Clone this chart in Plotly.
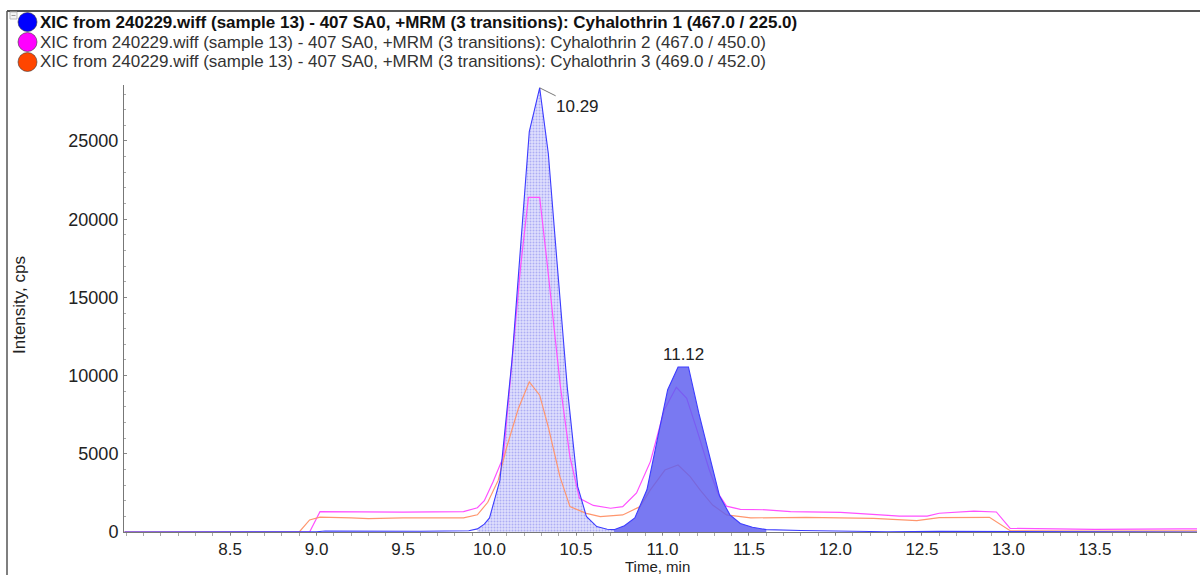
import numpy as np
import plotly.graph_objects as go

# ---------------- data ----------------
legend_labels = [
    "XIC from 240229.wiff (sample 13) - 407 SA0, +MRM (3 transitions): Cyhalothrin 1 (467.0 / 225.0)",
    "XIC from 240229.wiff (sample 13) - 407 SA0, +MRM (3 transitions): Cyhalothrin 2 (467.0 / 450.0)",
    "XIC from 240229.wiff (sample 13) - 407 SA0, +MRM (3 transitions): Cyhalothrin 3 (469.0 / 452.0)",
]

# Cyhalothrin 1 (467.0 / 225.0)
t1 = [7.89, 8.90, 9.00, 9.05, 9.30, 9.60, 9.88, 9.93, 9.97, 10.00, 10.06, 10.13, 10.18,
      10.23, 10.29, 10.34, 10.39, 10.45, 10.51, 10.56, 10.62, 10.68, 10.72, 10.78, 10.84,
      10.91, 10.97, 11.03, 11.09, 11.15, 11.21, 11.27, 11.33, 11.39, 11.45, 11.52, 11.60,
      11.80, 12.00, 12.30, 12.60, 12.95, 13.00, 13.50, 14.09]
i1 = [0, 0, 20, 60, 40, 50, 80, 200, 500, 900, 3300, 11000, 18300,
      25600, 28400, 24200, 17300, 9200, 2900, 1000, 350, 180, 150, 400, 900,
      2700, 5900, 9100, 10550, 10550, 7600, 5000, 2300, 1100, 550, 300, 150,
      100, 80, 20, 40, 40, 10, 5, 0]

# Cyhalothrin 2 (467.0 / 450.0)
t2 = [7.89, 8.96, 9.02, 9.20, 9.50, 9.85, 9.93, 9.97, 10.02, 10.08, 10.18, 10.225, 10.29,
      10.33, 10.41, 10.465, 10.52, 10.60, 10.70, 10.77, 10.85, 10.93, 11.01, 11.08, 11.14,
      11.20, 11.27, 11.32, 11.37, 11.45, 11.60, 11.74, 12.03, 12.26, 12.37, 12.53, 12.60,
      12.80, 12.93, 13.01, 13.50, 14.00, 14.09]
i2 = [0, 0, 1300, 1290, 1270, 1300, 1550, 2000, 3200, 4800, 17000, 21400, 21400,
      17500, 9300, 4800, 2150, 1700, 1520, 1620, 2500, 4500, 7800, 9250, 8550,
      6500, 4000, 2500, 1650, 1450, 1420, 1300, 1260, 1090, 1020, 1020, 1200,
      1340, 1280, 230, 170, 200, 200]

# Cyhalothrin 3 (469.0 / 452.0)
t3 = [7.89, 8.90, 8.96, 9.02, 9.20, 9.30, 9.50, 9.85, 9.93, 9.99, 10.05, 10.10, 10.167,
      10.23, 10.29, 10.34, 10.407, 10.465, 10.56, 10.64, 10.77, 10.87, 10.93, 11.014, 11.09,
      11.16, 11.217, 11.29, 11.37, 11.51, 11.83, 12.22, 12.47, 12.60, 12.89, 13.01, 13.50,
      14.09]
i3 = [0, 0, 770, 950, 900, 850, 900, 900, 1100, 1900, 3300, 5450, 7900,
      9600, 8750, 6700, 3540, 1620, 1195, 980, 1090, 1620, 2690, 3960, 4285,
      3540, 2690, 1725, 1090, 900, 940, 875, 725, 915, 940, 80, 60,
      70]

peak_labels = [10.29, 11.12]
peak1_window = (9.93, 10.72)
peak2_window = (10.72, 11.62)
threshold_marker = 1400

x_ticks = [8.5, 9.0, 9.5, 10.0, 10.5, 11.0, 11.5, 12.0, 12.5, 13.0, 13.5]
y_ticks = [0, 5000, 10000, 15000, 20000, 25000]

# ---------------- layout geometry ----------------
W, H = 1200, 575
L, R, T, B = 124, 3, 85, 43
PW, PH = W - L - R, H - T - B
X_RANGE = [7.887, 14.09]
Y_RANGE = [0, 28580]


def px(x):
    return (x - L) / PW


def py(y):
    return (H - B - y) / PH


FONT = "Liberation Sans, Arial, sans-serif"
BLUE_LINE = "rgb(60,60,255)"
MAG_LINE = "rgb(255,80,255)"
ORG_LINE = "rgb(255,150,110)"

t1a, i1a = np.array(t1), np.array(i1)
m1 = (t1a >= peak1_window[0]) & (t1a <= peak1_window[1])
m2 = (t1a >= peak2_window[0]) & (t1a <= peak2_window[1])

fig = go.Figure()

# peak 1 (dotted light fill)
fig.add_trace(go.Scatter(
    x=t1a[m1], y=i1a[m1], mode="lines", fill="tozeroy",
    line=dict(width=0, color=BLUE_LINE),
    fillcolor="rgba(222,222,252,1)",
    fillpattern=dict(shape=".", fgcolor="rgba(110,110,235,0.9)",
                     bgcolor="rgba(224,224,252,1)", size=3, solidity=0.35),
    hoverinfo="skip", showlegend=False))

fig.add_trace(go.Scatter(x=t2, y=i2, mode="lines", line=dict(color=MAG_LINE, width=1.2),
                         hoverinfo="skip", showlegend=False))
fig.add_trace(go.Scatter(x=t3, y=i3, mode="lines", line=dict(color=ORG_LINE, width=1.2),
                         hoverinfo="skip", showlegend=False))

# peak 2 (solid fill over the other traces)
fig.add_trace(go.Scatter(
    x=t1a[m2], y=i1a[m2], mode="lines", fill="tozeroy",
    line=dict(width=0, color=BLUE_LINE),
    fillcolor="rgba(95,95,240,0.84)",
    hoverinfo="skip", showlegend=False))

fig.add_trace(go.Scatter(x=t1, y=i1, mode="lines", line=dict(color=BLUE_LINE, width=1.1),
                         hoverinfo="skip", showlegend=False))

# threshold marker on the y axis
fig.add_trace(go.Scatter(x=[X_RANGE[0] - 0.012], y=[threshold_marker], mode="markers",
                         marker=dict(symbol="triangle-right", size=7, color="#1010e0"),
                         cliponaxis=False, hoverinfo="skip", showlegend=False))

annotations = []
# peak labels
pk1 = peak_labels[0]
annotations.append(dict(x=pk1, y=float(np.interp(pk1, t1, i1)), xref="x", yref="y",
                        text=f"{pk1:.2f}", showarrow=True, arrowhead=0, arrowwidth=0.8,
                        arrowcolor="#555", ax=38, ay=19,
                        font=dict(family=FONT, size=17, color="#222")))
pk2 = peak_labels[1]
annotations.append(dict(x=pk2, y=max(i1a[m2]), xref="x", yref="y", text=f"{pk2:.2f}",
                        showarrow=False, yanchor="bottom", yshift=1,
                        font=dict(family=FONT, size=17, color="#222")))

# axis titles
annotations.append(dict(x=px(657), y=py(566.5), xref="paper", yref="paper", text="Time, min",
                        xanchor="center", yanchor="middle",
                        showarrow=False, font=dict(family=FONT, size=15, color="#222")))
annotations.append(dict(x=px(19), y=py(305), xref="paper", yref="paper", text="Intensity, cps",
                        textangle=-90, showarrow=False, xanchor="center", yanchor="middle",
                        font=dict(family=FONT, size=17, color="#222")))

# legend (circles + text)
legend_colors = ["#0000ff", "#ff00ff", "#ff4500"]
shapes = []
for k, (lab, col) in enumerate(zip(legend_labels, legend_colors)):
    cy = 22 + 20 * k
    shapes.append(dict(type="circle", xref="paper", yref="paper",
                       x0=px(18), x1=px(37), y0=py(cy + 9.5), y1=py(cy - 9.5),
                       fillcolor=col, line=dict(color="rgba(60,60,60,0.6)", width=1)))
    annotations.append(dict(x=px(38), y=py(cy), xref="paper", yref="paper",
                            text=f"<b>{lab}</b>" if k == 0 else lab,
                            xanchor="left", yanchor="middle", showarrow=False,
                            font=dict(family=FONT, size=17,
                                      color="#111" if k == 0 else "#333")))

# outer frame
shapes.append(dict(type="line", xref="paper", yref="paper", x0=px(7), x1=px(1200),
                   y0=py(11), y1=py(11), line=dict(color="#555", width=2)))
shapes.append(dict(type="line", xref="paper", yref="paper", x0=px(7), x1=px(7),
                   y0=py(11), y1=py(575), line=dict(color="#555", width=1.5)))
shapes.append(dict(type="rect", xref="paper", yref="paper", x0=px(10), x1=px(17),
                   y0=py(19), y1=py(12), line=dict(color="#bbb", width=1),
                   fillcolor="#f4f4f4"))
shapes.append(dict(type="line", xref="paper", yref="paper", x0=px(11.5), x1=px(15.5),
                   y0=py(15.5), y1=py(15.5), line=dict(color="#999", width=1)))

fig.update_layout(
    width=W, height=H,
    margin=dict(l=L, r=R, t=T, b=B),
    paper_bgcolor="white", plot_bgcolor="white",
    font=dict(family=FONT, size=17, color="#222"),
    showlegend=False,
    annotations=annotations,
    shapes=shapes,
    xaxis=dict(range=X_RANGE, tickmode="array", tickvals=x_ticks,
               ticktext=[f"{v:.1f}" for v in x_ticks],
               showgrid=False, zeroline=False, showline=True, linecolor="#777", linewidth=1,
               ticks="outside", ticklen=2, tickcolor="#888", ticklabelstandoff=0,
               minor=dict(dtick=0.1, tick0=8.0, ticks="outside", ticklen=3, tickcolor="#aaa"),
               tickfont=dict(family=FONT, size=17, color="#222")),
    yaxis=dict(range=Y_RANGE, tickmode="array", tickvals=y_ticks,
               ticktext=[str(v) for v in y_ticks],
               showgrid=False, zeroline=False, showline=True, linecolor="#777", linewidth=1,
               ticks="inside", ticklen=3, tickcolor="#888", ticklabelstandoff=1,
               minor=dict(dtick=1000, ticks="inside", ticklen=2, tickcolor="#aaa"),
               tickfont=dict(family=FONT, size=18, color="#222")),
)

fig.write_html("out.html")
